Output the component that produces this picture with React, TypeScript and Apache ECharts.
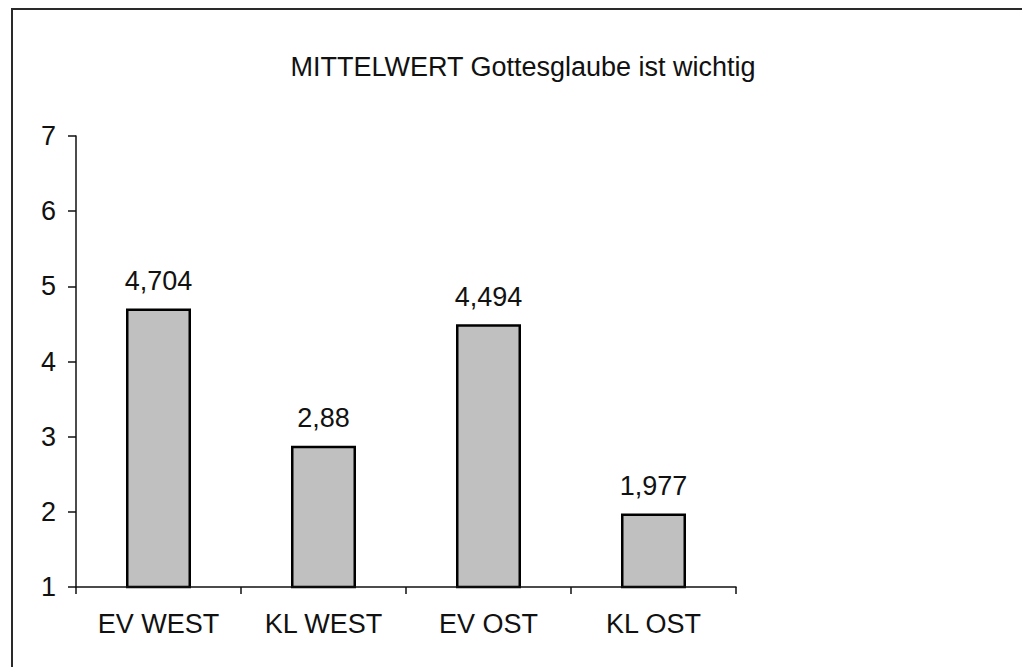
import React, { useEffect, useRef } from "react";
import * as echarts from "echarts";

const categories = ["EV WEST", "KL WEST", "EV OST", "KL OST"];
const values = [4.704, 2.88, 4.494, 1.977];
const titleText = "MITTELWERT Gottesglaube ist wichtig";
const yMin = 1;
const yMax = 7;
const yInterval = 1;

const FONT = "'Liberation Sans', Arial, Helvetica, sans-serif";
const FS = 27;

export default function App() {
  const ref = useRef<HTMLDivElement>(null);
  useEffect(() => {
    if (!ref.current) return;
    const chart = echarts.init(ref.current, undefined, { renderer: "svg" });
    chart.setOption({
      animation: false,
      backgroundColor: "#ffffff",
      textStyle: { fontFamily: FONT },
      graphic: [
        {
          type: "rect",
          shape: { x: 12, y: 9, width: 1200, height: 900 },
          style: { fill: "none", stroke: "#2a2a2a", lineWidth: 2 },
          silent: true,
        },
        {
          type: "text",
          x: 523,
          y: 67,
          style: {
            text: titleText,
            fontFamily: FONT,
            fontSize: FS,
            fill: "#111",
            textAlign: "center",
            textVerticalAlign: "middle",
          },
        },
      ],
      grid: { left: 76, right: 286, top: 136, bottom: 80, containLabel: false },
      xAxis: {
        type: "category",
        data: categories,
        axisLine: { lineStyle: { color: "#111", width: 1.5 } },
        axisTick: { show: true, length: 7, lineStyle: { color: "#111", width: 1.5 } },
        axisLabel: { fontFamily: FONT, fontSize: FS, color: "#111", margin: 23 },
        z: 10,
      },
      yAxis: {
        type: "value",
        min: yMin,
        max: yMax,
        interval: yInterval,
        splitLine: { show: false },
        axisLine: { show: true, lineStyle: { color: "#111", width: 1.5 } },
        axisTick: { show: true, length: 8, lineStyle: { color: "#111", width: 1.5 } },
        axisLabel: { fontFamily: FONT, fontSize: FS, color: "#111", margin: 20 },
        z: 10,
      },
      series: [
        {
          type: "bar",
          data: values,
          barWidth: 65,
          itemStyle: { color: "#c0c0c0", borderColor: "#000", borderWidth: 2.5 },
          label: {
            show: true,
            position: "top",
            distance: 14,
            fontFamily: FONT,
            fontSize: FS,
            color: "#111",
            formatter: (p: any) => String(p.value).replace(".", ","),
          },
        },
      ],
    });
    return () => chart.dispose();
  }, []);
  return (
    <div
      ref={ref}
      style={{ position: "fixed", left: 0, top: 0, width: 1022, height: 667 }}
    />
  );
}
